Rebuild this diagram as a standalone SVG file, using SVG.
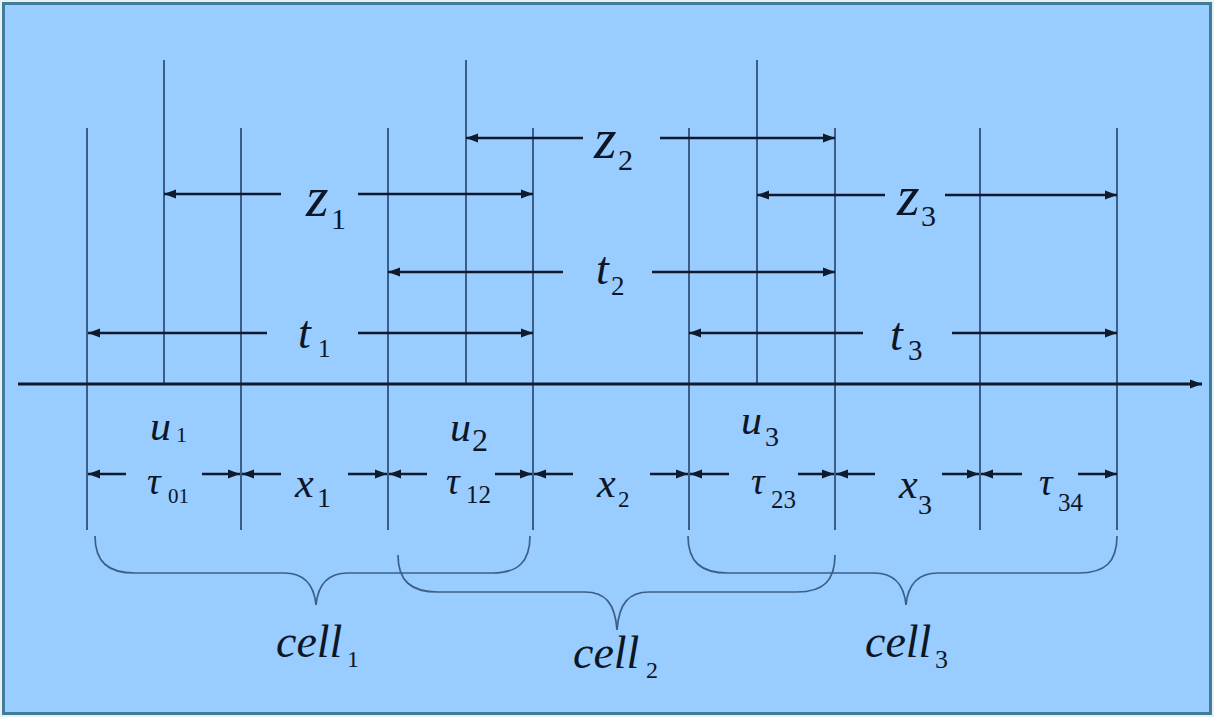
<svg xmlns="http://www.w3.org/2000/svg" width="1214" height="717" viewBox="0 0 1214 717">
<style>
.v{stroke:#2a4a70;stroke-width:1.7;fill:none}
.a{stroke:#0f1a2c;stroke-width:2.6;fill:none;marker-end:url(#ah)}
.b{stroke:#3b5f86;stroke-width:1.7;fill:none}
.m{font-family:"Liberation Serif","Times New Roman",serif;font-style:italic;fill:#0d1626}
.s{font-family:"Liberation Serif","Times New Roman",serif;fill:#0d1626}
</style>
<defs>
<marker id="ah" markerUnits="userSpaceOnUse" markerWidth="13" markerHeight="10" refX="12" refY="5" orient="auto">
<path d="M0,0.5 L12,5 L0,9.5 z" fill="#0f1a2c"/>
</marker>
</defs>
<rect x="0" y="0" width="1214" height="717" fill="#e8f0f4"/>
<rect x="3.5" y="3.5" width="1207" height="710" fill="#99ccff" stroke="#3f7d98" stroke-width="3"/>

<g id="verticals">
<line class="v" x1="87" y1="128" x2="87" y2="530"/>
<line class="v" x1="241" y1="128" x2="241" y2="530"/>
<line class="v" x1="388" y1="128" x2="388" y2="530"/>
<line class="v" x1="533" y1="128" x2="533" y2="530"/>
<line class="v" x1="689" y1="128" x2="689" y2="530"/>
<line class="v" x1="835" y1="128" x2="835" y2="530"/>
<line class="v" x1="980" y1="128" x2="980" y2="530"/>
<line class="v" x1="1117" y1="128" x2="1117" y2="530"/>
<line class="v" x1="164" y1="60" x2="164" y2="384"/>
<line class="v" x1="466" y1="60" x2="466" y2="384"/>
<line class="v" x1="757" y1="60" x2="757" y2="384"/>
</g>

<g id="axis">
<line x1="18" y1="384" x2="1202" y2="384" stroke="#0f1a2c" stroke-width="2.8" marker-end="url(#ah)"/>
</g>

<g id="connectors">
<line class="a" x1="281" y1="194" x2="164" y2="194"/>
<line class="a" x1="358" y1="194" x2="533" y2="194"/>
<line class="a" x1="583" y1="138" x2="466" y2="138"/>
<line class="a" x1="660" y1="138" x2="835" y2="138"/>
<line class="a" x1="885" y1="195" x2="757" y2="195"/>
<line class="a" x1="945" y1="195" x2="1117" y2="195"/>
<line class="a" x1="267" y1="333" x2="88" y2="333"/>
<line class="a" x1="358" y1="333" x2="533" y2="333"/>
<line class="a" x1="563" y1="272" x2="388" y2="272"/>
<line class="a" x1="652" y1="272" x2="835" y2="272"/>
<line class="a" x1="863" y1="333" x2="689" y2="333"/>
<line class="a" x1="952" y1="333" x2="1117" y2="333"/>
<line class="a" x1="126" y1="474" x2="88" y2="474"/>
<line class="a" x1="202" y1="474" x2="240" y2="474"/>
<line class="a" x1="281" y1="474" x2="242" y2="474"/>
<line class="a" x1="348" y1="474" x2="387" y2="474"/>
<line class="a" x1="427" y1="474" x2="389" y2="474"/>
<line class="a" x1="495" y1="474" x2="532" y2="474"/>
<line class="a" x1="573" y1="474" x2="534" y2="474"/>
<line class="a" x1="650" y1="474" x2="688" y2="474"/>
<line class="a" x1="729" y1="474" x2="690" y2="474"/>
<line class="a" x1="798" y1="474" x2="834" y2="474"/>
<line class="a" x1="875" y1="474" x2="836" y2="474"/>
<line class="a" x1="942" y1="474" x2="979" y2="474"/>
<line class="a" x1="1022" y1="474" x2="981" y2="474"/>
<line class="a" x1="1078" y1="474" x2="1117" y2="474"/>
</g>

<g id="braces">
<path class="b" d="M95,536 C95,562 108,573 135,573 L284,573 C304,573 314,584 316,605 C318,584 328,573 348,573 L492,573 C518,573 530,562 530,536"/>
<path class="b" d="M398,555 C398,581 411,592 438,592 L585,592 C605,592 615,603 617,630 C619,603 629,592 649,592 L797,592 C823,592 835,581 835,555"/>
<path class="b" d="M688,536 C688,562 701,573 728,573 L874,573 C894,573 904,584 906,605 C908,584 918,573 938,573 L1079,573 C1105,573 1117,562 1117,536"/>
</g>

<g id="labels">
<g id="z1"><text class="m" x="306" y="216" font-size="58">z</text><text class="s" x="331" y="229" font-size="30">1</text></g>
<g id="z2"><text class="m" x="594" y="158" font-size="58">z</text><text class="s" x="618" y="170" font-size="30">2</text></g>
<g id="z3"><text class="m" x="897" y="215" font-size="58">z</text><text class="s" x="921" y="226" font-size="30">3</text></g>
<g id="t1"><text class="m" x="298" y="348" font-size="46">t</text><text class="s" x="318" y="357" font-size="25">1</text></g>
<g id="t2"><text class="m" x="596" y="284" font-size="46">t</text><text class="s" x="611" y="295" font-size="27">2</text></g>
<g id="t3"><text class="m" x="890" y="350" font-size="46">t</text><text class="s" x="908" y="360" font-size="29">3</text></g>
<g id="u1"><text class="m" x="150" y="440" font-size="42">u</text><text class="s" x="176" y="442" font-size="22">1</text></g>
<g id="u2"><text class="m" x="450" y="441" font-size="42">u</text><text class="s" x="472" y="451" font-size="32">2</text></g>
<g id="u3"><text class="m" x="741" y="434" font-size="42">u</text><text class="s" x="765" y="446" font-size="28">3</text></g>
<g id="tau01"><text class="m" x="147" y="494" font-size="38">τ</text><text class="s" x="168" y="503" font-size="21">01</text></g>
<g id="x1"><text class="m" x="295" y="497" font-size="42">x</text><text class="s" x="317" y="507" font-size="28">1</text></g>
<g id="tau12"><text class="m" x="446" y="494" font-size="38">τ</text><text class="s" x="466" y="503" font-size="25">12</text></g>
<g id="x2"><text class="m" x="597" y="497" font-size="42">x</text><text class="s" x="618" y="507" font-size="23">2</text></g>
<g id="tau23"><text class="m" x="751" y="494" font-size="38">τ</text><text class="s" x="771" y="508" font-size="25">23</text></g>
<g id="x3"><text class="m" x="899" y="498" font-size="42">x</text><text class="s" x="918" y="514" font-size="28">3</text></g>
<g id="tau34"><text class="m" x="1039" y="495" font-size="38">τ</text><text class="s" x="1058" y="511" font-size="25">34</text></g>
<g id="cell1"><text class="m" x="276" y="657" font-size="46">cell</text><text class="s" x="347" y="667" font-size="24">1</text></g>
<g id="cell2"><text class="m" x="573" y="668" font-size="46">cell</text><text class="s" x="646" y="678" font-size="24">2</text></g>
<g id="cell3"><text class="m" x="865" y="657" font-size="46">cell</text><text class="s" x="935" y="668" font-size="26">3</text></g>
</g>
</svg>
